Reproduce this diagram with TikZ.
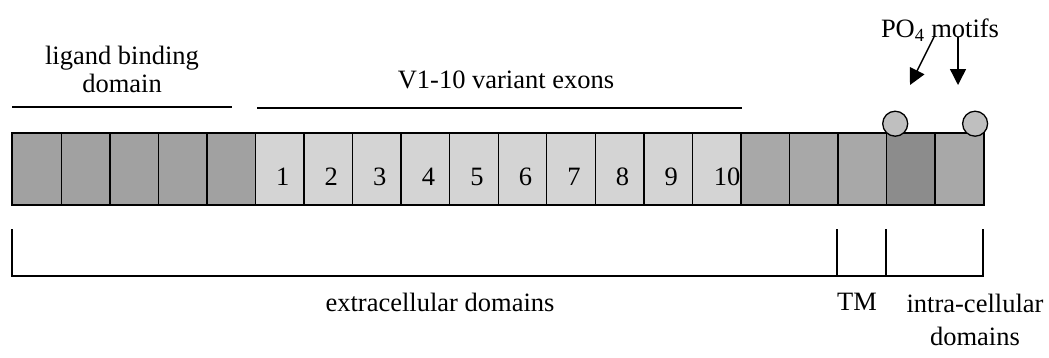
\documentclass[tikz,border=0pt]{standalone}
\usepackage{fontspec}
\setmainfont{Liberation Serif}
\usetikzlibrary{arrows.meta}
\definecolor{dk}{gray}{0.63}
\definecolor{lt}{gray}{0.83}
\definecolor{md}{gray}{0.66}
\definecolor{dd}{gray}{0.55}
\definecolor{cf}{gray}{0.75}
\begin{document}
\begin{tikzpicture}[x=1pt,y=-1pt,
  lbl/.style={font=\fontsize{26.5}{28}\selectfont, inner sep=0pt},
  cellbox/.style={draw=black, line width=1.4pt, minimum width=48.55pt, minimum height=71pt, inner sep=0pt, anchor=north west},
  motif/.style={circle, draw=black, line width=1.3pt, fill=cf, minimum size=25pt, inner sep=0pt},
  rule/.style={line width=1.4pt},
  pointer/.style={line width=1.4pt, -{Triangle[length=16pt,width=16pt]}}]
\useasboundingbox (0,0) rectangle (1049,357);
% cells
\foreach \i/\c in {1/dk,2/dk,3/dk,4/dk,5/dk,6/lt,7/lt,8/lt,9/lt,10/lt,11/lt,12/lt,13/lt,14/lt,15/lt,16/md,17/md,18/md,19/dd,20/md}{
  \node[cellbox, fill=\c] (c\i) at ({12+(\i-1)*48.55},133) {};
}
\draw[line width=2pt] (c1.north west) rectangle (c20.south east);
% exon numbers
\foreach \i/\n in {6/1,7/2,8/3,9/4,10/5,11/6,12/7,13/8,14/9}{
  \node[lbl] (n\n) at ([xshift=3pt,yshift=-8pt]c\i.center) {\n};
}
\node[lbl, anchor=east] (n10) at ([xshift=-1pt,yshift=-8pt]c15.east) {10};
% motifs
\node[motif, anchor=south west] (m1) at (c19.north west) {};
\node[motif, anchor=south east] (m2) at (c20.north east) {};
% top labels
\node[lbl, align=center] (lig) at (122,69) {ligand binding\\domain};
\draw[rule] (12,107) coordinate (l1a) -- (232,107) coordinate (l1b);
\node[lbl] (var) at (506,80) {V1-10 variant exons};
\draw[rule] (257,108) coordinate (l2a) -- (742,108) coordinate (l2b);
\node[lbl] (po4) at (940,30) {PO\textsubscript{4} motifs};
\coordinate (a1s) at (934,37);
\coordinate (a1e) at (910,85);
\coordinate (a2s) at (958,37);
\coordinate (a2e) at (958,85);
\draw[pointer] (a1s) -- (a1e);
\draw[pointer] (a2s) -- (a2e);
% bottom bracket
\coordinate (b0) at (12,229);
\coordinate (b1) at (837,229);
\coordinate (b2) at (886,229);
\coordinate (b3) at (983,229);
\draw[rule] (b0) -- (12,276) -- (983,276) -- (b3);
\draw[rule] (b1) -- (837,276);
\draw[rule] (b2) -- (886,276);
\node[lbl] (ext) at (440,302) {extracellular domains};
\node[lbl] (tm) at (857,302) {TM};
\node[lbl, align=center] (intra) at (975,320) {intra-cellular\\[5pt]domains};
\end{tikzpicture}
\end{document}
